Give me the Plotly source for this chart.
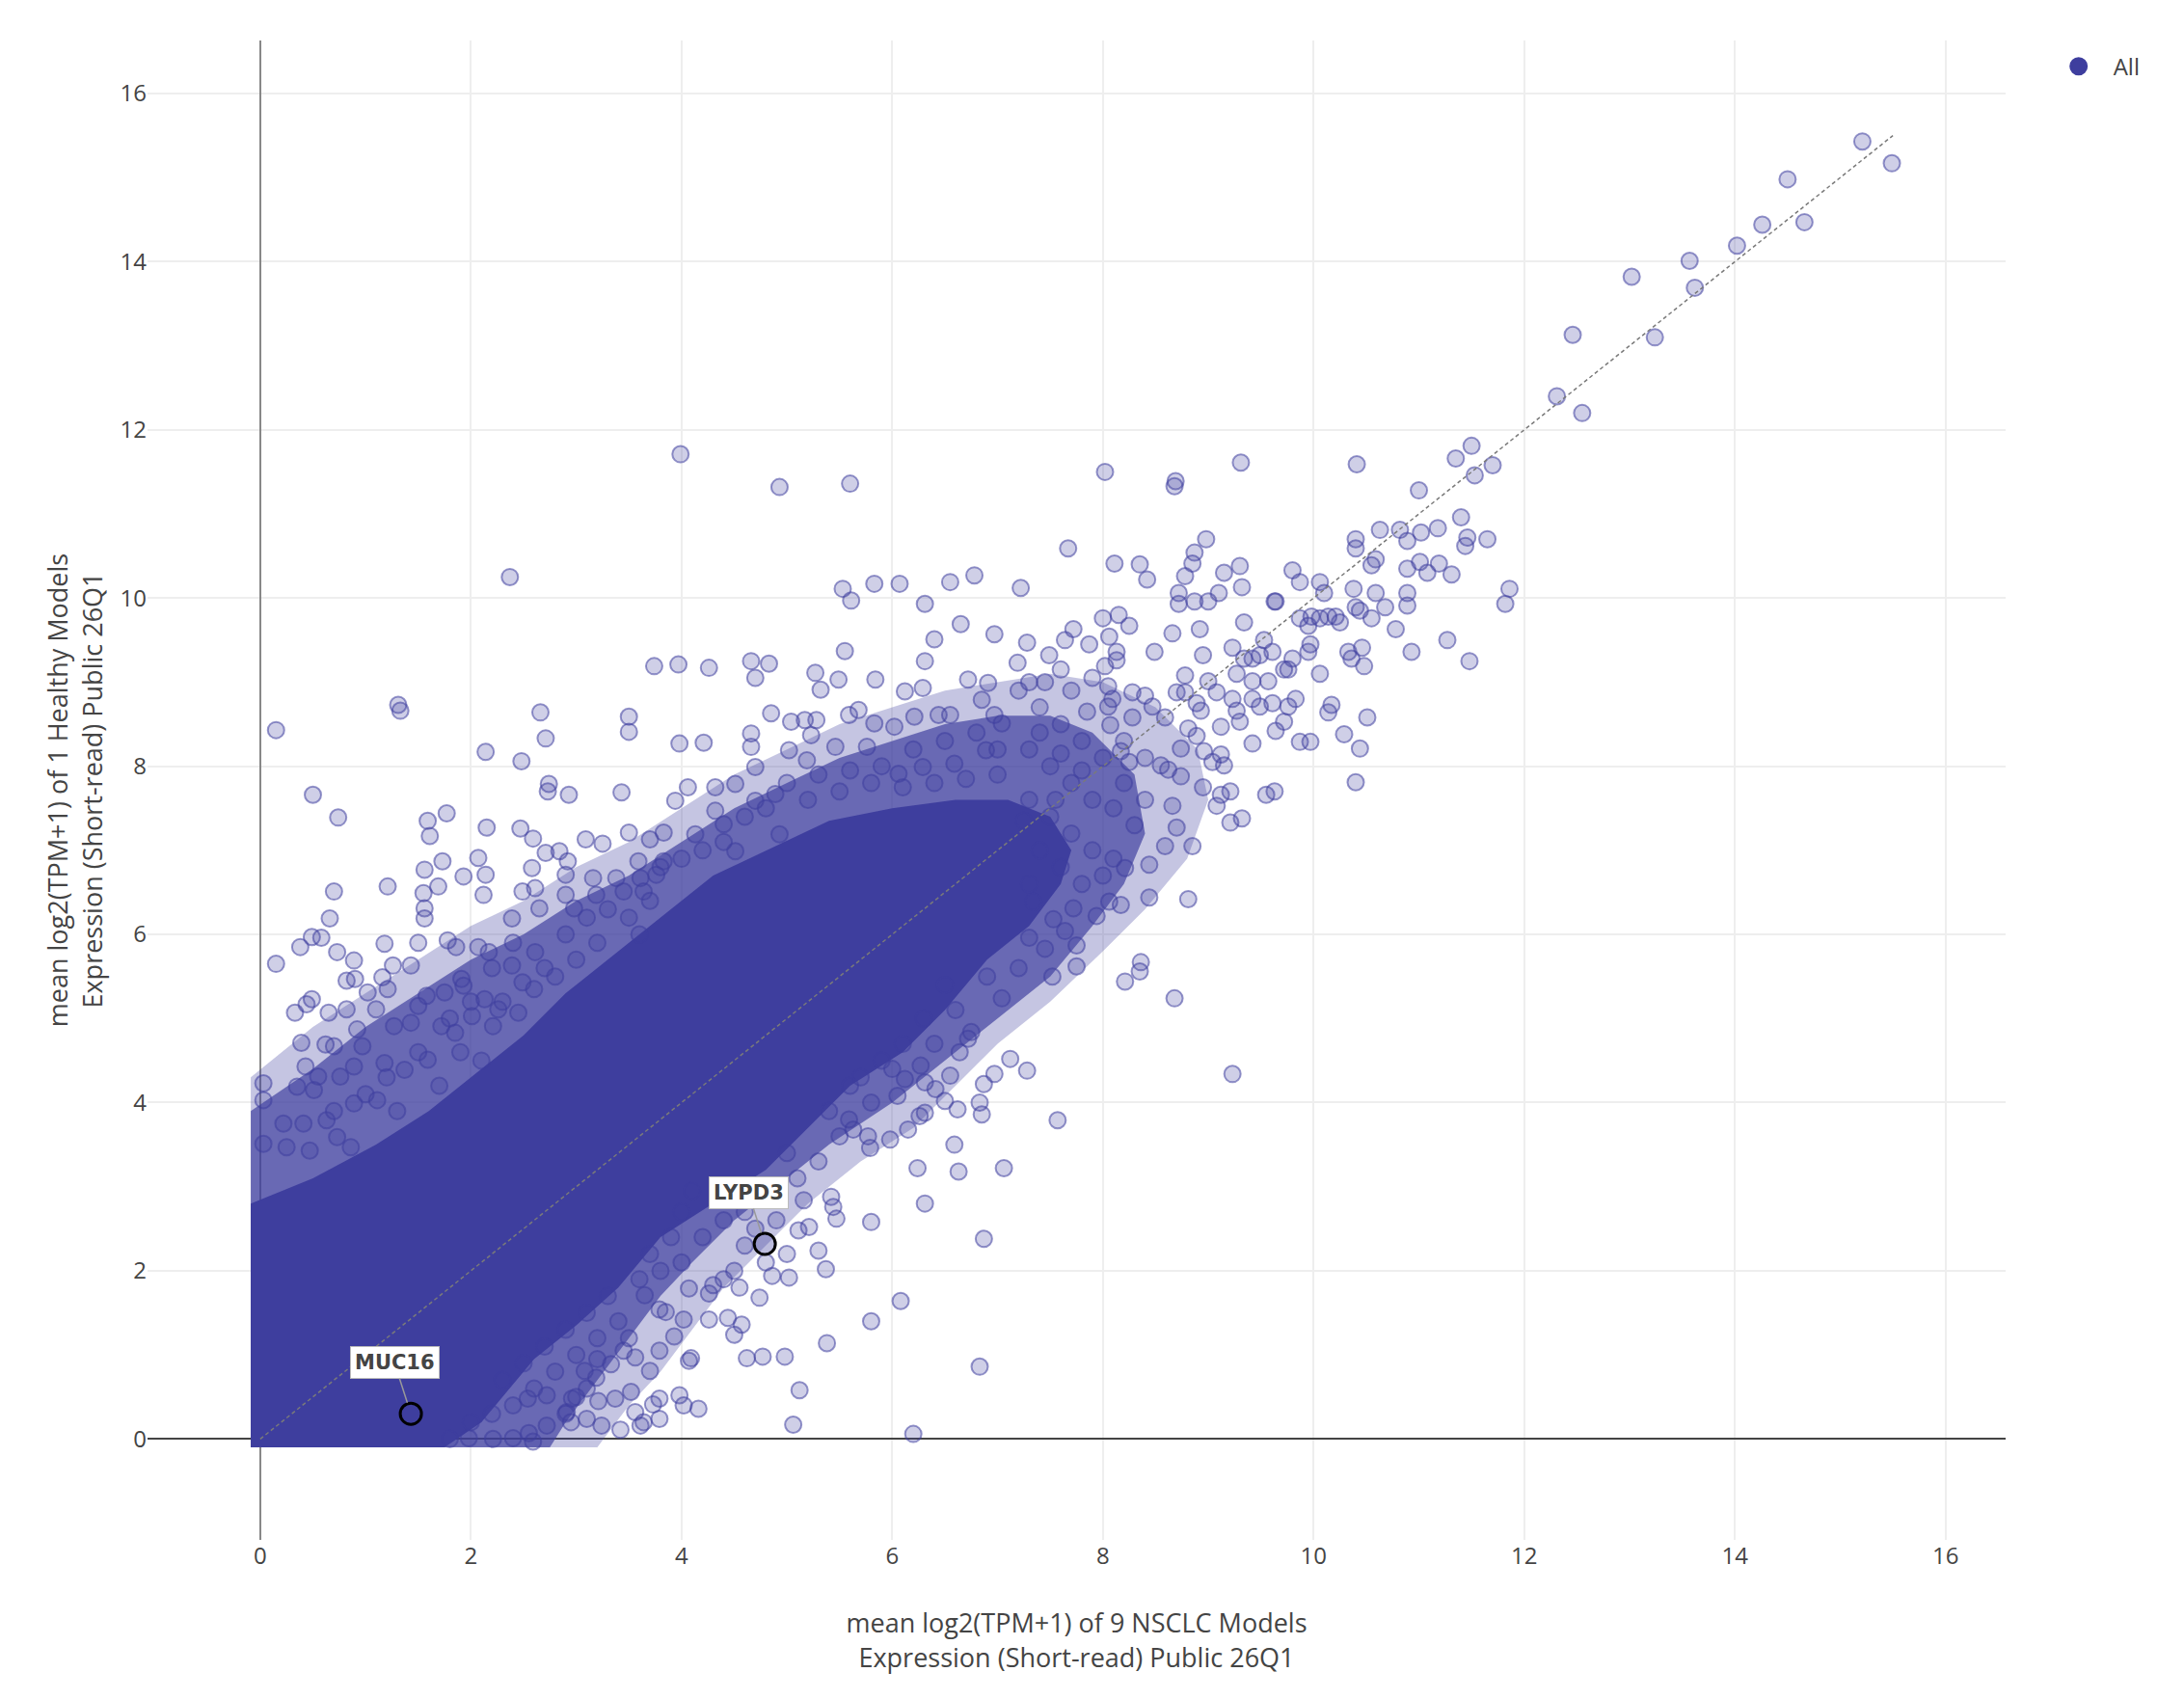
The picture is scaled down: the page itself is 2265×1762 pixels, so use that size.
import plotly.graph_objects as go

# Genes far up the diagonal (x > 12)
top_right = [(15.21, 15.43), (15.49, 15.17), (14.50, 14.98), (14.26, 14.44), (14.66, 14.47),
             (14.02, 14.19), (13.57, 14.01), (13.62, 13.69), (13.02, 13.82), (13.24, 13.10),
             (12.46, 13.13), (12.31, 12.40), (12.55, 12.20)]

# Isolated genes high above the cloud
high_left = [(3.99, 11.71), (4.93, 11.32), (5.60, 11.36), (2.37, 10.25)]

# Upper right part of the cloud (x > 7)
upper_right = [
    (11.50, 11.81), (11.35, 11.66), (11.53, 11.46), (11.70, 11.58), (11.00, 11.28), (10.41, 11.59),
    (9.31, 11.61), (8.02, 11.50), (8.69, 11.39), (8.68, 11.33), (7.67, 10.59), (8.11, 10.41),
    (8.35, 10.40), (8.42, 10.22), (8.98, 10.70), (8.87, 10.54), (8.78, 10.26), (8.85, 10.41),
    (9.15, 10.30), (9.30, 10.38), (9.32, 10.13), (9.10, 10.06), (9.00, 9.96), (8.87, 9.96),
    (8.72, 9.93), (8.72, 10.06), (7.22, 10.12), (9.80, 10.33), (9.87, 10.19), (10.06, 10.19),
    (10.10, 10.06), (9.64, 9.96), (10.40, 10.70), (10.40, 10.59), (10.63, 10.81), (10.82, 10.81),
    (10.89, 10.68), (11.02, 10.78), (11.18, 10.83), (11.40, 10.96), (11.46, 10.72), (11.44, 10.62),
    (11.65, 10.70), (10.55, 10.39), (10.59, 10.46), (10.89, 10.35), (11.01, 10.43), (11.08, 10.30),
    (11.19, 10.41), (11.31, 10.28), (11.86, 10.11), (11.82, 9.93), (10.38, 10.11), (10.59, 10.06),
    (10.68, 9.89), (10.89, 10.06), (10.89, 9.91), (10.40, 9.89), (10.44, 9.85), (10.55, 9.76),
    (10.78, 9.63), (9.87, 9.76), (9.98, 9.78), (10.06, 9.76), (10.14, 9.78), (10.21, 9.78),
    (9.95, 9.67), (9.34, 9.71), (9.63, 9.96), (10.25, 9.71), (10.93, 9.36), (11.27, 9.50),
    (11.48, 9.25), (10.36, 9.28), (10.46, 9.41), (10.48, 9.19), (10.33, 9.36), (9.95, 9.36),
    (9.97, 9.45), (9.80, 9.28), (9.76, 9.15), (10.06, 9.10), (9.53, 9.50), (9.61, 9.36),
    (9.49, 9.32), (9.42, 9.28), (9.23, 9.41), (9.34, 9.28), (8.95, 9.32), (8.66, 9.58),
    (8.49, 9.36), (8.92, 9.63), (8.00, 9.76), (8.15, 9.80), (8.25, 9.67), (8.06, 9.54),
    (8.13, 9.36), (8.02, 9.19), (8.13, 9.26), (7.72, 9.63), (7.64, 9.50), (7.87, 9.45),
    (7.28, 9.47), (7.19, 9.23), (7.49, 9.32), (7.60, 9.15), (8.78, 9.08), (9.00, 9.01),
    (9.27, 9.10), (9.42, 9.01), (9.57, 9.01), (9.72, 9.15), (8.70, 8.88), (8.89, 8.75),
    (9.08, 8.88), (9.23, 8.80), (9.42, 8.80), (9.49, 8.71), (9.61, 8.75), (9.76, 8.71),
    (9.83, 8.80), (10.17, 8.73), (10.14, 8.64), (10.51, 8.58), (10.29, 8.38), (10.44, 8.21),
    (10.40, 7.81), (9.87, 8.29), (9.97, 8.29), (9.72, 8.53), (9.64, 8.42), (9.42, 8.27),
    (9.30, 8.53), (9.12, 8.47), (9.27, 8.66), (8.93, 8.66), (8.81, 8.45), (8.89, 8.36),
    (8.74, 8.21), (8.96, 8.18), (9.12, 8.14), (9.15, 8.01), (9.04, 8.05), (8.78, 8.88),
    (8.59, 8.58), (8.47, 8.71), (8.28, 8.58), (8.40, 8.84), (8.28, 8.88), (8.09, 8.80),
    (8.05, 8.71), (8.07, 8.49), (8.17, 8.18), (8.25, 8.05), (8.40, 8.10), (8.55, 8.01),
    (8.62, 7.96), (8.74, 7.88), (8.95, 7.75), (9.12, 7.66), (9.21, 7.70), (9.08, 7.53),
    (9.21, 7.33), (9.32, 7.38), (9.55, 7.66), (9.63, 7.70), (8.66, 7.53), (8.70, 7.27),
    (8.59, 7.05), (8.85, 7.05), (8.44, 6.83), (8.44, 6.44), (8.81, 6.42), (8.21, 6.79),
    (8.17, 6.35), (7.94, 6.22), (8.06, 6.39), (7.72, 6.31), (7.45, 5.83), (8.36, 5.67),
    (7.64, 6.04), (7.75, 5.87), (7.53, 6.18), (7.34, 6.39), (7.30, 5.96),
    (7.20, 8.90), (7.40, 8.70), (7.60, 8.50), (7.80, 8.30), (7.30, 8.20), (7.50, 8.00),
    (7.70, 7.80), (7.90, 7.60), (8.10, 7.50), (8.30, 7.30), (7.30, 7.60), (7.50, 7.40),
    (7.70, 7.20), (7.90, 7.00), (8.10, 6.90), (7.40, 7.00), (7.60, 6.80), (7.80, 6.60),
    (8.00, 6.70), (7.30, 6.60), (8.20, 7.80), (8.40, 7.60), (8.20, 8.30), (8.00, 8.10),
    (7.80, 7.95), (7.40, 8.40), (7.60, 8.15), (7.25, 7.35), (7.55, 7.60), (7.85, 8.65),
    (8.05, 8.95), (7.90, 9.05), (7.70, 8.90), (7.45, 9.00), (7.30, 9.00)]

# Upper middle part of the cloud (x 4 - 7)
upper_mid = [
    (5.53, 10.11), (5.61, 9.97), (5.83, 10.17), (6.07, 10.17), (6.55, 10.19), (6.78, 10.27),
    (6.31, 9.93), (6.65, 9.69), (6.97, 9.57), (6.40, 9.51), (5.55, 9.37), (6.31, 9.25),
    (3.97, 9.21), (4.26, 9.17), (4.66, 9.25), (4.83, 9.22), (4.70, 9.05), (5.27, 9.11),
    (5.32, 8.91), (5.49, 9.03), (5.84, 9.03), (6.12, 8.89), (6.29, 8.93), (6.72, 9.03),
    (6.91, 8.99), (4.85, 8.63), (5.04, 8.53), (5.17, 8.55), (5.28, 8.55), (5.23, 8.37),
    (3.98, 8.27), (4.21, 8.28), (4.66, 8.39), (4.66, 8.23), (5.02, 8.19), (5.59, 8.61),
    (5.68, 8.67), (5.83, 8.51), (6.02, 8.47), (6.21, 8.59), (6.44, 8.61), (6.55, 8.61),
    (6.85, 8.79), (6.97, 8.61), (7.04, 8.51), (6.89, 8.19), (6.59, 8.03), (6.29, 7.99),
    (6.06, 7.91), (5.76, 8.23), (5.46, 8.23), (5.19, 8.07), (4.70, 7.99), (4.51, 7.79),
    (4.32, 7.75), (4.06, 7.75), (3.94, 7.59), (4.32, 7.47), (4.70, 7.59), (4.89, 7.67),
    (4.40, 7.31), (4.13, 7.19), (4.51, 6.99), (4.93, 7.19),
    (5.00, 7.80), (5.30, 7.90), (5.60, 7.95), (5.90, 8.00), (6.20, 8.20), (6.50, 8.30),
    (6.80, 8.40), (7.00, 8.20), (5.20, 7.60), (5.50, 7.70), (5.80, 7.80), (6.10, 7.75),
    (6.40, 7.80), (6.70, 7.85), (7.00, 7.90), (4.60, 7.40), (4.80, 7.50), (4.20, 7.00),
    (4.40, 7.10), (4.00, 6.90), (3.80, 6.80)]

# Upper left part of the cloud (x < 4)
upper_left = [
    (0.15, 8.43), (1.31, 8.73), (1.33, 8.66), (2.66, 8.64), (2.71, 8.33), (3.50, 8.59),
    (3.50, 8.41), (2.14, 8.17), (2.48, 8.06), (3.74, 9.19), (2.74, 7.79), (2.73, 7.70),
    (2.93, 7.66), (3.43, 7.69), (0.50, 7.66), (0.74, 7.39), (1.59, 7.35), (1.61, 7.17),
    (1.77, 7.44), (2.15, 7.27), (2.47, 7.26), (2.59, 7.14), (3.09, 7.13), (3.25, 7.08),
    (3.50, 7.21), (3.70, 7.13), (3.83, 7.21), (2.07, 6.91), (1.56, 6.77), (1.73, 6.87),
    (1.93, 6.69), (2.14, 6.71), (0.70, 6.51), (1.21, 6.57), (1.55, 6.49), (1.69, 6.57),
    (1.56, 6.31), (1.56, 6.19), (2.12, 6.47), (2.58, 6.79), (2.71, 6.97), (2.84, 6.99),
    (2.92, 6.87), (2.90, 6.71), (2.49, 6.51), (2.61, 6.55), (2.65, 6.31), (2.39, 6.19),
    (2.90, 6.47), (2.98, 6.31), (3.16, 6.67), (3.38, 6.67), (3.59, 6.87), (3.61, 6.67),
    (3.19, 6.47), (3.45, 6.51), (3.64, 6.51), (3.76, 6.71), (3.83, 6.87), (0.66, 6.19),
    (0.38, 5.85), (0.49, 5.97), (0.58, 5.96), (0.15, 5.65), (0.73, 5.79), (0.89, 5.69),
    (1.18, 5.89), (1.50, 5.90), (1.78, 5.93), (1.86, 5.85), (2.07, 5.85), (2.17, 5.79),
    (1.26, 5.63), (1.43, 5.63), (0.82, 5.45), (0.90, 5.47), (1.16, 5.49), (1.21, 5.35),
    (1.91, 5.47), (1.93, 5.39), (1.75, 5.31), (1.58, 5.27), (1.50, 5.15), (0.33, 5.07),
    (0.44, 5.17), (0.49, 5.23), (0.65, 5.07), (0.82, 5.11), (1.02, 5.31), (1.10, 5.11),
    (2.13, 5.23), (2.26, 5.11), (2.45, 5.07), (2.01, 5.03), (2.21, 4.91), (2.39, 5.63),
    (2.49, 5.43), (2.61, 5.79), (0.39, 4.71), (0.62, 4.69), (0.70, 4.67), (0.92, 4.87),
    (0.97, 4.67), (1.27, 4.91), (1.43, 4.95), (1.72, 4.91), (1.85, 4.83), (0.43, 4.43),
    (0.55, 4.31), (0.35, 4.19), (0.51, 4.15), (0.76, 4.31), (0.89, 4.43), (1.18, 4.47),
    (1.37, 4.39), (1.59, 4.51), (0.03, 4.23), (0.03, 4.03), (0.03, 3.51), (0.22, 3.75),
    (0.41, 3.75), (0.63, 3.79), (0.89, 3.99), (1.11, 4.03), (0.73, 3.59), (0.25, 3.47),
    (0.47, 3.43), (0.86, 3.47),
    (2.20, 5.60), (2.40, 5.90), (2.70, 5.60), (2.90, 6.00), (3.10, 6.20), (3.30, 6.30),
    (3.00, 5.70), (3.50, 6.20), (3.70, 6.40), (3.20, 5.90), (3.60, 6.00), (1.80, 5.00),
    (2.00, 5.20), (1.50, 4.60), (1.20, 4.30), (1.00, 4.10), (0.70, 3.90), (1.90, 4.60),
    (2.30, 5.20), (2.60, 5.35), (1.70, 4.20), (1.30, 3.90), (2.10, 4.50), (2.80, 5.50)]

# Lower right part of the cloud (x > 4.4)
lower_right = [
    (7.52, 5.50), (7.75, 5.62), (8.21, 5.44), (8.35, 5.56), (8.68, 5.24), (9.23, 4.34),
    (7.12, 4.52), (7.28, 4.38), (6.97, 4.34), (6.87, 4.22), (7.04, 5.24), (6.75, 4.84),
    (6.72, 4.76), (6.64, 4.60), (6.55, 4.32), (6.83, 4.00), (6.85, 3.86), (6.62, 3.92),
    (6.50, 4.02), (6.41, 4.16), (6.31, 4.24), (6.27, 4.44), (6.12, 4.28), (6.05, 4.08),
    (6.15, 3.68), (6.26, 3.84), (6.31, 3.88), (7.57, 3.79), (6.59, 3.50), (6.63, 3.18),
    (7.06, 3.22), (6.24, 3.22), (6.31, 2.80), (5.98, 3.56), (5.79, 3.46), (5.77, 3.60),
    (5.63, 3.68), (5.59, 3.80), (5.80, 2.58), (6.87, 2.38), (5.47, 2.62), (5.44, 2.76),
    (5.42, 2.88), (5.30, 2.24), (5.37, 2.02), (5.21, 2.52), (5.11, 2.48), (5.16, 2.84),
    (5.02, 1.92), (4.86, 1.94), (4.74, 1.68), (4.55, 1.80), (6.08, 1.64), (5.80, 1.40),
    (5.38, 1.14), (4.98, 0.98), (4.77, 0.98), (4.62, 0.96), (4.57, 1.36), (4.50, 1.24),
    (4.44, 1.44), (5.12, 0.58), (5.06, 0.17), (6.20, 0.06), (6.83, 0.86),
    (6.50, 5.40), (6.30, 5.00), (6.10, 4.70), (5.90, 4.50), (5.70, 4.30), (6.60, 5.10),
    (6.90, 5.50), (7.20, 5.60), (6.40, 4.70), (5.80, 4.00), (5.50, 3.60), (5.30, 3.30),
    (5.10, 3.10), (4.90, 2.90), (5.40, 3.90), (5.60, 4.20), (6.00, 4.40), (5.00, 3.40),
    (4.80, 3.00), (4.60, 2.70), (4.40, 2.60), (4.60, 2.30), (4.50, 2.00), (4.70, 2.50),
    (4.90, 2.60), (5.00, 2.20), (4.80, 2.10), (4.40, 1.90)]

# Lower left part of the cloud (x < 4.4)
lower_left = [
    (1.80, 0.00), (1.98, 0.01), (2.21, 0.00), (2.40, 0.01), (2.59, -0.03), (2.72, 0.16),
    (2.91, 0.32), (3.10, 0.24), (2.96, 0.48), (2.72, 0.52), (2.54, 0.48), (3.24, 0.16),
    (3.42, 0.11), (3.61, 0.16), (3.79, 0.24), (3.56, 0.32), (3.37, 0.48), (3.52, 0.56),
    (3.79, 0.48), (3.98, 0.52), (4.02, 0.40), (4.16, 0.36), (4.07, 0.93), (3.19, 0.73),
    (3.33, 0.89), (3.56, 0.97), (3.70, 0.81), (3.79, 1.05), (3.93, 1.22), (4.26, 1.42),
    (4.02, 1.42), (3.79, 1.54), (3.65, 1.71), (4.07, 1.79), (4.26, 1.73), (4.30, 1.83),
    (3.64, 0.20), (3.73, 0.41), (3.85, 1.51), (4.09, 0.96), (3.21, 0.45), (2.95, 0.20),
    (2.55, 0.07), (3.08, 0.81), (2.30, 0.70), (2.50, 0.90), (2.70, 1.10), (2.90, 1.30),
    (3.10, 1.50), (3.30, 1.70), (2.60, 0.60), (2.80, 0.80), (3.00, 1.00), (3.20, 1.20),
    (3.40, 1.40), (3.60, 1.90), (3.00, 0.50), (3.20, 0.95), (3.45, 1.05), (2.90, 0.30),
    (3.10, 0.60), (3.50, 1.20), (3.70, 2.20), (3.90, 2.40), (2.20, 0.30), (2.40, 0.40),
    (2.00, 0.20), (3.80, 2.00), (4.00, 2.10), (4.20, 2.40), (4.00, 2.70), (4.10, 2.95)]

# Outer edge of the cloud, where markers still cover most of the area
outer_x = [-0.09, 0.5, 1.0, 1.5, 2.0, 2.5, 3.0, 3.5, 4.0, 4.5, 5.0, 5.5, 6.0, 6.5, 7.0, 7.5, 8.0,
           8.5, 8.9, 9.0, 8.8, 8.4, 8.0, 7.5, 7.0, 6.6, 6.2, 5.7, 5.2, 4.8, 4.4, 4.1, 3.8, 3.5,
           3.2, -0.09]
outer_y = [4.3, 4.9, 5.3, 5.7, 6.1, 6.4, 6.8, 7.1, 7.5, 7.9, 8.2, 8.5, 8.7, 8.9, 9.0, 9.1, 9.0,
           8.7, 8.2, 7.6, 6.9, 6.3, 5.8, 5.2, 4.7, 4.2, 3.7, 3.3, 2.8, 2.3, 1.8, 1.3, 0.8, 0.4,
           -0.1, -0.1]

# Where markers overlap heavily (half-saturated band)
mid_x = [-0.09, 0.5, 1.0, 1.5, 2.0, 2.5, 3.0, 3.5, 4.0, 4.5, 5.0, 5.5, 6.0, 6.5, 7.0, 7.5, 7.9,
         8.3, 8.4, 8.2, 7.9, 7.5, 7.0, 6.5, 6.0, 5.4, 4.9, 4.5, 4.1, 3.8, 3.5, 3.2, 2.9, 2.75,
         -0.09]
mid_y = [3.9, 4.4, 4.9, 5.3, 5.7, 6.0, 6.4, 6.7, 7.1, 7.5, 7.8, 8.1, 8.3, 8.5, 8.6, 8.6, 8.4,
         7.9, 7.2, 6.6, 6.1, 5.5, 5.0, 4.5, 4.0, 3.5, 3.0, 2.6, 2.1, 1.7, 1.2, 0.7, 0.2, -0.1,
         -0.1]

# Saturated core, where markers overlap completely
core_x = [-0.09, 1.75, 2.1, 2.6, 3.0, 3.4, 3.8, 4.3, 4.8, 5.2, 5.6, 6.1, 6.5, 6.9, 7.3, 7.6,
          7.7, 7.5, 7.1, 6.6, 6.0, 5.4, 4.8, 4.3, 3.6, 2.9, 2.5, 2.0, 1.6, 1.1, 0.5, -0.09]
core_y = [-0.1, -0.1, 0.2, 0.95, 1.35, 1.8, 2.4, 2.8, 3.2, 3.7, 4.2, 4.6, 5.1, 5.7, 6.1, 6.6,
          7.0, 7.4, 7.6, 7.6, 7.5, 7.35, 7.0, 6.7, 6.0, 5.3, 4.8, 4.3, 3.9, 3.5, 3.1, 2.8]

# Labelled genes
label_genes = ['MUC16', 'LYPD3']
label_x = [1.43, 4.79]
label_y = [0.30, 2.32]

# Identity line
diag_x = [0, 15.5]
diag_y = [0, 15.5]

all_points = top_right + high_left + upper_right + upper_mid + upper_left + lower_right + lower_left
pts_x = [p[0] for p in all_points]
pts_y = [p[1] for p in all_points]

base = 'rgb(62,62,158)'

fig = go.Figure()

# Density bands of the cloud, lightest first
for bx, by, fc in [(outer_x, outer_y, 'rgba(62,62,158,0.3)'),
                   (mid_x, mid_y, 'rgba(62,62,158,0.68)'),
                   (core_x, core_y, base)]:
    fig.add_trace(go.Scatter(
        x=bx, y=by, mode='lines', fill='toself',
        fillcolor=fc, line=dict(width=0, color=base),
        hoverinfo='skip', showlegend=False
    ))

# All genes
fig.add_trace(go.Scatter(
    x=pts_x, y=pts_y, mode='markers', name='All', showlegend=False,
    marker=dict(size=17, color='rgba(62,62,158,0.25)',
                line=dict(color='rgba(62,62,158,0.55)', width=2))
))

# Highlighted genes
fig.add_trace(go.Scatter(
    x=label_x, y=label_y, mode='markers', text=label_genes, showlegend=False,
    marker=dict(size=22, color='rgba(62,62,158,0.35)', line=dict(color='black', width=3))
))

# Dashed identity line
fig.add_trace(go.Scatter(
    x=diag_x, y=diag_y, mode='lines', showlegend=False, hoverinfo='skip',
    line=dict(color='#7a7a7a', width=1.5, dash='4px,3px')
))

# Legend entry (solid marker)
fig.add_trace(go.Scatter(
    x=[None], y=[None], mode='markers', name='All',
    marker=dict(size=16, color=base, line=dict(color=base, width=3))
))

for g, gx, gy in zip(label_genes, label_x, label_y):
    fig.add_annotation(
        x=gx, y=gy, text='<b>' + g + '</b>', showarrow=True,
        ax=-17, ay=-53, arrowhead=0, arrowwidth=1.5, arrowcolor='#999', standoff=12,
        font=dict(family='DejaVu Sans', size=21, color='#444'),
        bgcolor='white', bordercolor='#bbb', borderwidth=1, borderpad=4
    )

fig.update_layout(
    width=2257, height=1754,
    paper_bgcolor='white', plot_bgcolor='white',
    margin=dict(l=145, r=185, t=34, b=165),
    font=dict(family='Open Sans', size=24, color='#444'),
    xaxis=dict(
        title=dict(text='mean log2(TPM+1) of 9 NSCLC Models<br>Expression (Short-read) Public 26Q1',
                   font=dict(size=27), standoff=46),
        range=[-1.07, 16.57], dtick=2, gridcolor='#eee', gridwidth=1.5,
        zeroline=True, zerolinecolor='#888', zerolinewidth=2, showline=False,
        tickfont=dict(size=24)
    ),
    yaxis=dict(
        title=dict(text='mean log2(TPM+1) of 1 Healthy Models<br>Expression (Short-read) Public 26Q1',
                   font=dict(size=27), standoff=10),
        range=[-1.20, 16.63], dtick=2, gridcolor='#eee', gridwidth=1.5,
        zeroline=True, zerolinecolor='#444', zerolinewidth=2, showline=False,
        tickfont=dict(size=24)
    ),
    legend=dict(x=1.0206, y=0.997, xanchor='left', yanchor='top', itemwidth=62,
                font=dict(size=24))
)

fig.write_html("out.html")
